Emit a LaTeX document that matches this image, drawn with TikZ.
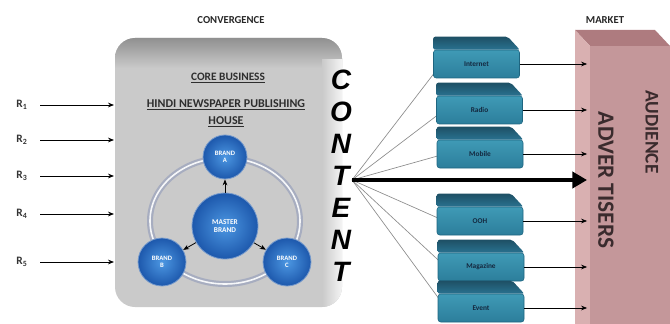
\documentclass[tikz,border=0pt]{standalone}
\usepackage{fontspec}
\setmainfont{Carlito}
\newfontfamily\heavyfont{Liberation Sans}
\usetikzlibrary{arrows.meta}
\pgfdeclarelayer{background}
\pgfsetlayers{background,main}

\definecolor{panelgrey}{HTML}{CACACA}
\definecolor{paneltop}{HTML}{8C8C8C}
\definecolor{panelink}{HTML}{2E2E2E}
\definecolor{ringgrey}{HTML}{A7ADC0}
\definecolor{ballin}{HTML}{4C97E2}
\definecolor{ballout}{HTML}{1D58AC}
\definecolor{tealfront}{HTML}{3F9AB6}
\definecolor{tealfrontlow}{HTML}{2C7E9B}
\definecolor{tealtop}{HTML}{2A7290}
\definecolor{tealedge}{HTML}{1E6580}
\definecolor{mediatext}{HTML}{14283F}
\definecolor{rosefront}{HTML}{C4979A}
\definecolor{roseside}{HTML}{D9B0B1}
\definecolor{rosetop}{HTML}{AE7B7F}
\definecolor{roseink}{HTML}{3A2B2D}

\tikzset{
  heading/.style={font=\fontsize{8}{9}\selectfont\bfseries, text=black!85},
  coretext/.style={font=\fontsize{8.5}{10}\selectfont\bfseries, text=panelink},
  rlabel/.style={font=\fontsize{8.5}{10}\selectfont\bfseries, text=black!80},
  feed/.style={-{Stealth[length=4.5pt,width=3.5pt]}, line width=0.6pt},
  brandball/.style={circle, inner color=ballin, outer color=ballout,
    draw=ballout!60!white, line width=0.6pt, minimum size=36pt, inner sep=0pt,
    text=white, align=center, font=\fontsize{5}{5.5}\selectfont\bfseries},
  contentletter/.style={font=\heavyfont\fontsize{21}{21}\selectfont\bfseries\itshape},
  mediabox/.style={rectangle, rounded corners=2pt, minimum width=64.5pt,
    minimum height=21pt, top color=tealfront, bottom color=tealfrontlow,
    draw=tealedge, line width=0.4pt, text=mediatext,
    font=\fontsize{5.5}{6}\selectfont\bfseries},
  fanline/.style={draw=black!45, line width=0.5pt},
  marketink/.style={text=roseink, rotate=-90},
}

\begin{document}
\begin{tikzpicture}[x=0.75pt, y=-0.75pt]
\useasboundingbox (0,0) rectangle (670,324);

% headings
\node[heading] (convergence) at (231,20) {CONVERGENCE};
\node[heading] (markethead) at (605,20) {MARKET};

% grey core-business panel with darker bevelled top
\begin{scope}
  \clip[rounded corners=15pt] (115,38) rectangle (342,307);
  \fill[panelgrey] (100,30) rectangle (360,320);
  \shade[top color=paneltop, bottom color=panelgrey] (100,36) rectangle (360,68);
  \shade[left color=panelgrey, right color=white!80!panelgrey] (322,60) rectangle (342,320);
\end{scope}
\coordinate (coreleft) at (114,180);

\node[coretext] (corebusiness) at (228,78) {\underline{CORE BUSINESS}};
\node[coretext, font=\fontsize{9}{10}\selectfont\bfseries] (hindi) at (226,105) {\underline{HINDI NEWSPAPER PUBLISHING}};
\node[coretext, font=\fontsize{9}{10}\selectfont\bfseries] (house) at (226,122) {\underline{HOUSE}};

% ring joining the brands
\draw[ringgrey, line width=4.5pt] (225,221) ellipse [x radius=56.25pt, y radius=47.25pt];
\draw[white!90!ringgrey, line width=1.2pt] (225,221) ellipse [x radius=56.25pt, y radius=47.25pt];

% brand circles
\node[brandball, minimum size=33pt] (brandA) at (225,157) {BRAND\\A};
\node[brandball] (brandB) at (162,262) {BRAND\\B};
\node[brandball] (brandC) at (287,262) {BRAND\\C};
\node[brandball, minimum size=49.5pt, font=\fontsize{5.5}{6.5}\selectfont\bfseries] (master) at (225,226) {MASTER\\BRAND};
\draw[feed] (master) -- (brandA);
\draw[feed] (master) -- (brandB);
\draw[feed] (master) -- (brandC);

% revenue inputs
\foreach \i/\y in {1/105,2/140,3/176,4/214,5/262}{
  \node[rlabel] (R\i) at (22,\y) {R\textsubscript{\i}};
  \draw[feed, shorten <=6pt] (R\i.east) -- (R\i.east -| coreleft);
}

% CONTENT written down the panel edge
\foreach \l/\y [count=\k] in {C/80,O/112,N/144,T/176,E/208,N/240,T/272}{
  \node[contentletter] (content\k) at (341,\y) {\l};
}
\coordinate (fan) at (352,180);

% media platforms
\node[mediabox] (internet) at (476.5,64) {Internet};
\node[mediabox] (radio)    at (479.5,110) {Radio};
\node[mediabox] (mobile)   at (480,154) {Mobile};
\node[mediabox] (ooh)      at (480,221) {OOH};
\node[mediabox] (magazine) at (481,267) {Magazine};
\node[mediabox] (event)    at (481,308) {Event};
\foreach \b in {internet,radio,mobile,ooh,magazine,event}{
  \shade[top color=tealtop!70!black, bottom color=tealtop, rounded corners=1.5pt]
    (\b.north west) -- ++(0,-13) -- ([xshift=-9pt,yshift=9.75pt]\b.north east)
    -- (\b.north east) -- cycle;
}

% market block
\fill[rosetop] (575,30) -- (655,30) -- (670,46) -- (590,46) -- cycle;
\fill[roseside] (575,30) -- (590,46) -- (590,324) -- (575,324) -- cycle;
\node[rectangle, fill=rosefront, minimum width=60pt, minimum height=208.5pt,
  inner sep=0pt] (market) at (630,185) {};
\node[marketink, font=\fontsize{17.5}{18}\selectfont\bfseries] (advertisers) at (606,180) {ADVER TISERS};
\node[marketink, font=\fontsize{14.5}{15}\selectfont\bfseries] (audience) at (652,132) {AUDIENCE};

% content fanned out to every platform
\begin{pgfonlayer}{background}
  \foreach \b in {internet,radio,mobile,ooh,magazine,event}{
    \draw[fanline] (fan) -- ([xshift=6pt]\b.west);
  }
\end{pgfonlayer}

% platforms feed the market
\foreach \b in {internet,radio,mobile,ooh,magazine,event}{
  \draw[feed, line width=0.5pt, shorten >=2pt] (\b.east) -- (\b.east -| market.west);
}
\draw[line width=3pt, -{Triangle[length=11pt,width=12pt]}, shorten >=2pt]
  (fan) -- (fan -| market.west);
\end{tikzpicture}
\end{document}
